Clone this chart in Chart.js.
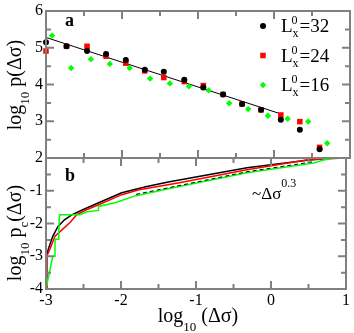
<!DOCTYPE html>
<html>
<head>
<meta charset="utf-8">
<script src="https://cdn.jsdelivr.net/npm/chart.js@4.4.1/dist/chart.umd.min.js"></script>
<style>
  body { margin: 0; background: #fff; }
  #wrap { position: relative; width: 354px; height: 333px; }
  #wrap canvas { position: absolute; left: 0; top: 0; }
</style>
</head>
<body>
<div id="wrap">
  <canvas id="chartA" width="354" height="333"></canvas>
  <canvas id="chartB" width="354" height="333"></canvas>
</div>
<script>
// panel a : log10 p(dsigma) for the three system sizes
var xA   = [-3.00, -2.73, -2.46, -2.21, -1.95, -1.70, -1.45, -1.18, -0.93, -0.67, -0.42, -0.17, 0.09, 0.34, 0.60];
var y32  = [5.15, 5.04, 4.91, 4.83, 4.67, 4.40, 4.35, 4.13, 3.92, 3.73, 3.47, 3.31, 3.04, 2.77, 2.24];
var y24  = [4.91, 5.04, 5.04, 4.77, 4.58, 4.37, 4.19, 4.08, 3.97, 3.73, 3.47, 3.31, 3.17, 2.99, 2.29];
var x16  = [-2.92, -2.67, -2.41, -2.16, -1.90, -1.63, -1.37, -1.12, -0.86, -0.59, -0.34, -0.08, 0.18, 0.45, 0.70];
var y16  = [5.33, 4.45, 4.69, 4.56, 4.45, 4.16, 4.03, 3.95, 3.84, 3.49, 3.33, 3.15, 3.07, 2.99, 2.40];
var fitX = [-3.00, 0.09];
var fitY = [5.28, 3.20];
var legendText = ['32', '24', '16'];

// panel b : cumulative log10 pc(dsigma)
var cx32 = [-3.00, -2.99, -2.97, -2.91, -2.84, -2.75, -2.65, -2.51, -2.29, -1.99, -1.67, -1.37, -0.32, 0.51, 0.83, 1.00];
var cy32 = [-4.00, -3.00, -2.79, -2.39, -2.09, -1.88, -1.73, -1.58, -1.36, -1.06, -0.88, -0.73, -0.30, -0.06, 0.00, 0.00];
var cx24 = [-3.00, -2.99, -2.95, -2.88, -2.78, -2.68, -2.59, -2.46, -2.29, -1.99, -1.76, -1.24, -0.32, 0.47, 0.74, 1.00];
var cy24 = [-4.00, -3.00, -2.79, -2.39, -2.18, -1.97, -1.73, -1.58, -1.42, -1.12, -0.97, -0.76, -0.36, -0.06, -0.02, 0.00];
var cx16 = [-3.00, -2.91, -2.88, -2.88, -2.83, -2.83, -2.82, -2.55, -2.45, -2.30, -2.30, -2.07, -1.80, -1.24, -0.32, 0.57, 0.70, 0.87, 1.00];
var cy16 = [-4.00, -3.00, -3.00, -2.48, -2.48, -2.27, -1.73, -1.73, -1.64, -1.60, -1.48, -1.36, -1.15, -0.88, -0.45, -0.15, -0.06, 0.00, 0.00];
var dashX = [-1.80, -0.32, 0.55];
var dashY = [-1.11, -0.42, -0.12];

var FONT = '"Liberation Serif", "DejaVu Serif", serif';
var GRAY = '#808080';

function pts(xs, ys) {
  return xs.map(function (x, i) { return { x: x, y: ys[i] }; });
}

// text with sub/superscripts: parts = [text, size, dy]
function rich(c, parts, x, y, align) {
  var w = 0;
  parts.forEach(function (p) { c.font = p[1] + 'px ' + FONT; w += c.measureText(p[0]).width; });
  var cx = align === 'center' ? x - w / 2 : x;
  parts.forEach(function (p) {
    c.font = p[1] + 'px ' + FONT;
    c.fillText(p[0], cx, y + (p[2] || 0));
    cx += c.measureText(p[0]).width;
  });
}

// frame and inward ticks like the original xmgrace plot
var frame = {
  id: 'frame',
  afterDatasetsDraw: function (chart) {
    var a = chart.chartArea, c = chart.ctx, sx = chart.scales.x, sy = chart.scales.y, v, p, len;
    c.save();
    c.strokeStyle = GRAY;
    c.lineWidth = 2;
    c.strokeRect(a.left, a.top, a.right - a.left, a.bottom - a.top);
    c.beginPath();
    for (v = sx.min; v <= sx.max + 1e-9; v += 0.5) {
      p = sx.getPixelForValue(v);
      len = Math.abs(v - Math.round(v)) < 1e-9 ? 8 : 5;
      c.moveTo(p, a.top); c.lineTo(p, a.top + len);
      c.moveTo(p, a.bottom); c.lineTo(p, a.bottom - len);
    }
    for (v = sy.min; v <= sy.max + 1e-9; v += 0.5) {
      p = sy.getPixelForValue(v);
      len = Math.abs(v - Math.round(v)) < 1e-9 ? 8 : 5;
      c.moveTo(a.left, p); c.lineTo(a.left + len, p);
      c.moveTo(a.right, p); c.lineTo(a.right - len, p);
    }
    c.stroke();
    c.restore();
  }
};

var textA = {
  id: 'textA',
  afterDraw: function (chart) {
    var c = chart.ctx;
    c.save();
    c.fillStyle = '#000';
    c.textBaseline = 'alphabetic';
    // y title
    c.save();
    c.translate(21, 85);
    c.rotate(-Math.PI / 2);
    rich(c, [['log', 20], ['10', 13, 8], [' p(\u0394\u03c3)', 20]], 0, 0, 'center');
    c.restore();
    // panel letter
    c.font = 'bold 18px ' + FONT;
    c.fillText('a', 65, 26);
    // legend
    var ds = chart.data.datasets;
    for (var i = 0; i < 3; i++) {
      var yy = 26 + i * 29.5;
      c.fillStyle = ds[i].backgroundColor;
      c.strokeStyle = ds[i].borderColor;
      Chart.helpers.drawPoint(c, { pointStyle: ds[i].pointStyle, radius: ds[i].pointRadius, borderWidth: 0 }, 263, yy);
      c.fillStyle = '#000';
      c.font = '19px ' + FONT;
      c.fillText('L', 281, yy + 6);
      var lw = c.measureText('L').width;
      c.font = '12px ' + FONT;
      c.fillText('0', 281 + lw - 1, yy - 2);
      c.fillText('x', 281 + lw, yy + 11);
      var sw = c.measureText('x').width;
      c.font = '19px ' + FONT;
      c.fillText('=' + legendText[i], 281 + lw + sw + 1, yy + 6);
    }
    c.restore();
  }
};

var textB = {
  id: 'textB',
  afterDraw: function (chart) {
    var c = chart.ctx;
    c.save();
    c.fillStyle = '#000';
    c.save();
    c.translate(21, 233);
    c.rotate(-Math.PI / 2);
    rich(c, [['log', 20], ['10', 13, 8], [' p', 20], ['c', 13, 7], ['(\u0394\u03c3)', 20]], 0, 0, 'center');
    c.restore();
    rich(c, [['log', 20], ['10', 13, 9], [' (\u0394\u03c3)', 20]], 198, 322, 'center');
    c.font = 'bold 18px ' + FONT;
    c.fillText('b', 65, 181);
    rich(c, [['~\u0394\u03c3', 17], ['0.3', 12, -12]], 252, 199, 'left');
    c.restore();
  }
};

var tickFont = { family: FONT, size: 16, lineHeight: 1 };

new Chart(document.getElementById('chartA'), {
  type: 'scatter',
  data: {
    datasets: [
      { data: pts(xA, y32), pointStyle: 'circle', pointRadius: 3, backgroundColor: '#000000', borderColor: '#000000', borderWidth: 0, clip: false },
      { data: pts(xA, y24), pointStyle: 'rect', pointRadius: 3.9, backgroundColor: '#ff0000', borderColor: '#ff0000', borderWidth: 0, clip: false },
      { data: pts(x16, y16), pointStyle: 'rectRot', pointRadius: 3.2, backgroundColor: '#00ff00', borderColor: '#00ff00', borderWidth: 0, clip: false },
      { type: 'line', data: pts(fitX, fitY), borderColor: '#000', borderWidth: 1, pointRadius: 0, fill: false }
    ]
  },
  options: {
    responsive: false,
    animation: false,
    devicePixelRatio: 1,
    layout: { padding: { top: 8, right: 4, bottom: 175, left: 0 } },
    plugins: { legend: { display: false }, tooltip: { enabled: false } },
    scales: {
      x: { type: 'linear', min: -3, max: 1, display: false },
      y: {
        min: 2, max: 6,
        ticks: { stepSize: 1, padding: 3, color: '#000', font: tickFont },
        grid: { display: false, drawTicks: false },
        border: { display: false },
        afterFit: function (s) { s.width = 46; }
      }
    }
  },
  plugins: [frame, textA]
});

new Chart(document.getElementById('chartB'), {
  type: 'line',
  data: {
    datasets: [
      { data: pts(dashX, dashY), borderColor: '#000', borderWidth: 1, borderDash: [4, 3], pointRadius: 0 },
      { data: pts(cx16, cy16), borderColor: '#00ff00', borderWidth: 1.5, pointRadius: 0 },
      { data: pts(cx24, cy24), borderColor: '#ff0000', borderWidth: 1.5, pointRadius: 0 },
      { data: pts(cx32, cy32), borderColor: '#000000', borderWidth: 1.5, pointRadius: 0 }
    ]
  },
  options: {
    responsive: false,
    animation: false,
    devicePixelRatio: 1,
    layout: { padding: { top: 158, right: 4, bottom: 0, left: 0 } },
    plugins: { legend: { display: false }, tooltip: { enabled: false } },
    scales: {
      x: {
        type: 'linear', min: -3, max: 1,
        ticks: { stepSize: 1, padding: 4, maxRotation: 0, color: '#000', font: tickFont },
        grid: { display: false, drawTicks: false },
        border: { display: false },
        afterFit: function (s) { s.height = 44; }
      },
      y: {
        min: -4, max: 0,
        ticks: { stepSize: 1, padding: 3, color: '#000', font: tickFont,
          callback: function (v) { return v === 0 ? '' : v; } },
        grid: { display: false, drawTicks: false },
        border: { display: false },
        afterFit: function (s) { s.width = 46; }
      }
    }
  },
  plugins: [frame, textB]
});
</script>
</body>
</html>
